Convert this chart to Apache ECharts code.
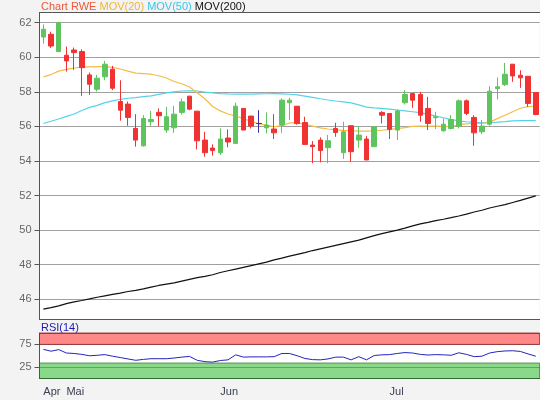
<!DOCTYPE html>
<html><head><meta charset="utf-8">
<script src="https://cdn.jsdelivr.net/npm/echarts@6/dist/echarts.min.js"></script>
<style>html,body{margin:0;padding:0;background:#f3f3f3}#c{width:540px;height:400px}</style>
</head><body><div id="c"></div>
<script>
const dates = ['04-28','04-29','04-30','05-02','05-05','05-06','05-07','05-08','05-09','05-12',
'05-13','05-14','05-15','05-16','05-19','05-20','05-21','05-22','05-23','05-26',
'05-27','05-28','05-30','06-02','06-03','06-04','06-05','06-06','06-09','06-10',
'06-11','06-12','06-13','06-16','06-17','06-18','06-19','06-20','06-23','06-24',
'06-25','06-26','06-27','06-30','07-01','07-02','07-03','07-04','07-07','07-08',
'07-09','07-10','07-11','07-14','07-15','07-16','07-17','07-18','07-21','07-22',
'07-23','07-24','07-25','07-28','07-29'];
const monthTickIndex = [0, 3, 23, 45];
const monthTickLabel = ['Apr', 'Mai', 'Jun', 'Jul'];

const open = [61.17,61.33,60.33,60.12,60.42,60.33,58.98,58.15,58.87,59.31,
57.44,57.29,55.88,54.88,56.27,56.81,55.79,55.92,56.81,57.75,
56.88,55.21,54.75,54.48,55.33,55.02,57.04,56.60,56.17,55.92,
55.85,56.08,57.37,57.17,56.23,54.92,55.21,54.77,55.88,54.48,
56.04,55.21,55.27,54.83,56.81,56.75,55.79,57.37,57.90,57.85,
57.04,56.50,55.75,55.88,56.02,57.48,56.52,55.69,56.13,58.19,
58.42,59.60,58.96,58.90,57.96];
const close = [61.62,60.65,62.00,59.79,60.27,59.40,58.44,58.79,59.60,58.21,
56.94,56.52,55.21,56.46,56.40,56.62,56.56,56.71,57.42,57.00,
55.17,54.48,54.60,55.27,55.10,57.17,55.79,56.02,56.17,56.08,
55.63,57.52,57.52,56.17,54.96,54.83,54.60,55.17,55.65,55.69,
54.54,55.50,54.06,55.98,56.65,55.83,56.90,57.85,57.52,56.65,
56.17,56.56,56.13,56.40,57.48,56.75,55.63,56.02,58.04,58.29,
59.02,58.92,58.81,57.33,56.69];
const low = [60.79,60.54,60.30,59.17,59.27,57.77,57.83,58.02,58.67,58.10,
56.33,56.04,54.83,54.83,56.04,56.00,55.63,55.63,56.69,56.94,
54.67,54.25,54.31,54.35,54.79,54.98,55.79,55.88,55.63,55.60,
55.27,55.63,56.37,56.10,54.96,53.87,53.92,53.87,55.40,54.12,
53.96,54.77,54.06,54.83,56.17,55.27,55.21,57.27,57.08,56.27,
55.79,55.85,55.69,55.83,55.88,56.65,54.88,55.56,56.04,57.56,
58.33,58.58,58.23,57.13,56.65];
const high = [61.90,61.48,62.05,60.62,60.56,60.46,59.12,58.98,59.79,59.50,
58.67,57.44,56.71,56.65,56.90,57.04,57.13,57.19,57.62,57.77,
56.90,55.69,54.96,55.88,55.83,57.38,57.04,56.60,56.94,56.81,
56.71,57.62,57.65,57.17,56.56,55.15,55.37,55.50,56.21,56.27,
56.08,56.02,55.44,55.98,56.88,56.77,56.98,58.10,57.92,58.00,
57.71,56.85,56.46,56.65,57.56,57.56,56.65,56.37,58.33,58.83,
59.67,59.60,59.25,58.92,57.98];

const mov20 = [58.87,59.00,59.20,59.30,59.38,59.43,59.45,59.46,59.46,59.42,
59.32,59.20,59.08,59.05,59.02,58.93,58.80,58.60,58.47,58.28,
57.95,57.60,57.15,56.90,56.72,56.60,56.45,56.30,56.15,56.07,
55.98,56.05,56.20,56.20,56.12,56.02,55.92,55.85,55.80,55.77,
55.75,55.73,55.73,55.74,55.78,55.83,55.87,55.93,56.00,56.02,
56.02,56.02,56.00,55.98,56.10,56.15,56.17,56.17,56.25,56.45,
56.65,56.85,57.05,57.15,57.18];
const mov50 = [56.17,56.30,56.43,56.58,56.72,56.92,57.10,57.22,57.38,57.48,
57.57,57.63,57.67,57.72,57.77,57.85,57.94,58.00,58.05,58.06,
58.05,57.98,57.94,57.90,57.88,57.87,57.87,57.87,57.88,57.89,
57.90,57.88,57.86,57.82,57.75,57.68,57.60,57.53,57.47,57.42,
57.36,57.25,57.12,57.07,57.04,57.00,56.95,56.90,56.85,56.80,
56.70,56.60,56.50,56.40,56.32,56.27,56.23,56.21,56.23,56.25,
56.28,56.32,56.33,56.33,56.33];
const mov200 = [45.43,45.52,45.62,45.75,45.85,45.93,46.02,46.12,46.20,46.28,
46.36,46.45,46.52,46.60,46.70,46.80,46.88,46.95,47.05,47.15,
47.25,47.33,47.42,47.55,47.65,47.75,47.85,47.95,48.05,48.15,
48.28,48.38,48.50,48.60,48.70,48.82,48.92,49.02,49.12,49.22,
49.32,49.42,49.55,49.68,49.80,49.90,50.00,50.12,50.25,50.36,
50.45,50.55,50.63,50.72,50.82,50.93,51.05,51.15,51.28,51.38,
51.48,51.60,51.72,51.85,51.98];
const rsi14 = [64,60,63.5,56,55,53,50,51,52.5,49,
46,43,40,42,43.5,43.5,43.5,45,47,48.5,
40,37,36,39.5,41,52,47,47.5,47.5,47.5,
48,55,55,50,44,41.5,41,43,47,47,
41,48,41,50.5,52,52.5,55,57,56,53,
51.6,52.5,52,51,56.5,53,48,49,56,59,
60.5,61,59.5,54,49];
const priceTicks = [46, 48, 50, 52, 54, 56, 58, 60, 62];
const rsiLabels = [25, 75];

const candles = open.map((o, i) => [o, close[i], low[i], high[i]]);
const isTick = (i) => monthTickIndex.indexOf(i) >= 0;
const font = "'Liberation Sans', Arial, sans-serif";

const chart = echarts.init(document.getElementById('c'), null, {renderer: 'canvas'});
chart.setOption({
  animation: false,
  backgroundColor: '#f3f3f3',
  textStyle: {fontFamily: font},
  title: [
    {left: 41, top: 1, padding: 0,
     text: '{a|Chart RWE} {b|MOV(20)} {c|MOV(50)} {d|MOV(200)}',
     textStyle: {fontSize: 11, fontWeight: 'normal', fontFamily: font,
       rich: {
         a: {color: '#e85a3c', fontSize: 11, fontFamily: font},
         b: {color: '#f2b535', fontSize: 11, fontFamily: font},
         c: {color: '#3cc4e6', fontSize: 11, fontFamily: font},
         d: {color: '#111111', fontSize: 11, fontFamily: font}
       }}},
    {left: 41, top: 322, padding: 0, text: 'RSI(14)',
     textStyle: {fontSize: 11, fontWeight: 'normal', color: '#1c1cb4', fontFamily: font}}
  ],
  grid: [
    {left: 39.5, width: 500.1, top: 12.5, height: 306.5, show: true, backgroundColor: '#ffffff', borderWidth: 0},
    {left: 39.5, width: 500.1, top: 333, height: 45.5, show: true, backgroundColor: '#ffffff', borderWidth: 0}
  ],
  xAxis: [
    {type: 'category', gridIndex: 0, data: dates, boundaryGap: true,
     axisLine: {onZero: false, lineStyle: {color: '#555555'}}, axisTick: {show: false}, axisLabel: {show: false}},
    {type: 'category', gridIndex: 0, position: 'top', data: dates, boundaryGap: true,
     axisLine: {onZero: false, lineStyle: {color: '#555555'}}, axisTick: {show: false}, axisLabel: {show: false}},
    {type: 'category', gridIndex: 1, data: dates, boundaryGap: true,
     axisLine: {onZero: false, lineStyle: {color: '#555555'}},
     axisTick: {alignWithLabel: true, interval: isTick, length: 4, lineStyle: {color: '#555555'}},
     axisLabel: {interval: isTick, align: 'left', margin: 8, fontSize: 11, color: '#3a4050', fontFamily: font,
       formatter: (v, i) => monthTickLabel[monthTickIndex.indexOf(i)] || ''}},
    {type: 'category', gridIndex: 1, position: 'top', data: dates, boundaryGap: true,
     axisLine: {onZero: false, lineStyle: {color: '#7a4a4a'}}, axisTick: {show: false}, axisLabel: {show: false}}
  ],
  yAxis: [
    {type: 'value', gridIndex: 0, min: 44.86, max: 62.59, splitNumber: 9, scale: true,
     axisLine: {show: true, lineStyle: {color: '#555555'}},
     axisTick: {show: true, length: 5, customValues: priceTicks, lineStyle: {color: '#555555'}},
     axisLabel: {fontSize: 11, color: '#666666', margin: 8, fontFamily: font, customValues: priceTicks,
       formatter: v => priceTicks.indexOf(Math.round(v * 100) / 100) >= 0 ? String(Math.round(v)) : ''},
     splitLine: {lineStyle: {color: '#a0a0a0'}}},
    {type: 'value', gridIndex: 1, min: 0, max: 100, interval: 25,
     axisLine: {show: true, lineStyle: {color: '#555555'}},
     axisTick: {show: true, length: 5, customValues: rsiLabels, lineStyle: {color: '#555555'}},
     axisLabel: {fontSize: 11, color: '#666666', margin: 8, fontFamily: font, customValues: rsiLabels,
       formatter: v => rsiLabels.indexOf(v) >= 0 ? String(v) : ''},
     splitLine: {lineStyle: {color: '#999999'}}}
  ],
  series: [
    {type: 'line', name: 'MOV(200)', xAxisIndex: 0, yAxisIndex: 0, data: mov200, showSymbol: false,
     lineStyle: {color: '#111111', width: 1.2}, z: 3},
    {type: 'line', name: 'MOV(50)', xAxisIndex: 0, yAxisIndex: 0, data: mov50, showSymbol: false,
     lineStyle: {color: '#55d2eb', width: 1.2}, z: 3},
    {type: 'line', name: 'MOV(20)', xAxisIndex: 0, yAxisIndex: 0, data: mov20, showSymbol: false,
     lineStyle: {color: '#f5bd45', width: 1.2}, z: 3},
    {type: 'candlestick', name: 'RWE', xAxisIndex: 0, yAxisIndex: 0, data: candles, barWidth: 5, z: 4,
     itemStyle: {color: '#5ec45e', color0: '#f03232', borderColor: '#5ec45e', borderColor0: '#f03232',
       borderColorDoji: '#3a30a8', borderWidth: 1}},
    {type: 'line', name: 'RSI(14)', xAxisIndex: 2, yAxisIndex: 1, data: rsi14, showSymbol: false,
     lineStyle: {color: '#2424c0', width: 1}, z: 5,
     markArea: {silent: true, z: 1, data: [
       [{yAxis: 75, itemStyle: {color: 'rgba(255,40,40,0.55)', borderColor: 'rgba(140,40,40,0.8)', borderWidth: 1}}, {yAxis: 100}],
       [{yAxis: 0, itemStyle: {color: 'rgba(30,180,30,0.52)', borderColor: 'rgba(40,110,40,0.7)', borderWidth: 1}}, {yAxis: 34}]
     ]}}
  ]
});
</script></body></html>
